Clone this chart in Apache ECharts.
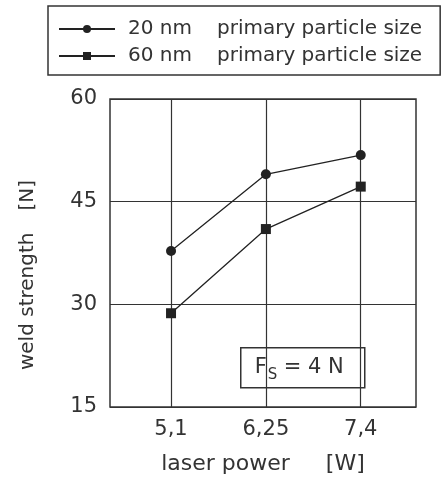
<!DOCTYPE html>
<html>
<head>
<meta charset="utf-8">
<script src="https://cdn.jsdelivr.net/npm/echarts@6/dist/echarts.min.js"></script>
<style>
  html, body { margin: 0; padding: 0; background: #fff; }
  #chart { width: 441px; height: 483px; }
</style>
</head>
<body>
<div id="chart"></div>
<script>
// Laser power settings (W) and measured weld strength (N)
const laserPower = [5.1, 6.25, 7.4];
const strength20nm = [37.8, 49.0, 51.8];
const strength60nm = [28.7, 41.0, 47.2];
const seriesNames = ['20 nm', '60 nm'];
const yTicks = [15, 30, 45, 60];

const ink = '#333';
const font = 'DejaVu Sans';

function pairs(xs, ys) {
  return xs.map((x, i) => [x, ys[i]]);
}

const chart = echarts.init(document.getElementById('chart'), null, { renderer: 'canvas' });

chart.setOption({
  backgroundColor: '#fff',
  animation: false,
  textStyle: { fontFamily: font, color: ink },
  legend: {
    orient: 'vertical',
    left: 48,
    top: 6,
    padding: [12, 18, 8, 10],
    itemGap: 5,
    itemWidth: 56,
    itemHeight: 10,
    borderColor: ink,
    borderWidth: 1.5,
    data: seriesNames,
    formatter: name => '{n|' + name + '}{p|primary particle size}',
    textStyle: {
      color: ink,
      lineHeight: 22,
      rich: {
        n: { fontFamily: font, fontSize: 20, color: ink, padding: [0, 0, 0, 8] },
        p: { fontFamily: font, fontSize: 20, color: ink, padding: [0, 0, 0, 25] }
      }
    }
  },
  grid: {
    left: 110,
    top: 99,
    width: 306,
    height: 308,
    show: true,
    borderColor: ink,
    borderWidth: 1.5,
    backgroundColor: 'transparent'
  },
  xAxis: {
    type: 'value',
    min: 4.36,
    max: 8.07,
    name: '{a|laser power}{b|[W]}',
    nameLocation: 'middle',
    nameGap: 46,
    nameTextStyle: {
      rich: {
        a: { fontFamily: font, fontSize: 22, color: ink },
        b: { fontFamily: font, fontSize: 22, color: ink, padding: [0, 0, 0, 36] }
      }
    },
    axisLine: { show: false },
    axisTick: { show: false },
    splitLine: { show: false },
    axisLabel: {
      customValues: laserPower,
      margin: 12,
      fontSize: 21,
      fontFamily: font,
      color: ink,
      formatter: v => String(v).replace('.', ',')
    }
  },
  yAxis: {
    type: 'value',
    min: yTicks[0],
    max: yTicks[yTicks.length - 1],
    interval: 15,
    name: '{a|weld strength}{b|[N]}',
    nameLocation: 'middle',
    nameRotate: 90,
    nameGap: 72,
    nameTextStyle: {
      padding: [0, 44, 0, 0],
      rich: {
        a: { fontFamily: font, fontSize: 20, color: ink },
        b: { fontFamily: font, fontSize: 20, color: ink, padding: [0, 0, 0, 22] }
      }
    },
    axisLine: { show: false },
    axisTick: { show: false },
    splitLine: { show: true, lineStyle: { color: ink, width: 1.2 } },
    axisLabel: {
      margin: 13,
      fontSize: 21,
      fontFamily: font,
      color: ink
    }
  },
  series: [
    {
      name: seriesNames[0],
      type: 'line',
      data: pairs(laserPower, strength20nm),
      symbol: 'circle',
      symbolSize: 10,
      itemStyle: { color: '#222' },
      lineStyle: { color: '#222', width: 1.3 },
      z: 5,
      markLine: {
        silent: true,
        symbol: 'none',
        label: { show: false },
        lineStyle: { color: ink, width: 1.2, type: 'solid' },
        data: laserPower.map(x => ({ xAxis: x })),
        z: 1
      }
    },
    {
      name: seriesNames[1],
      type: 'line',
      data: pairs(laserPower, strength60nm),
      symbol: 'rect',
      symbolSize: 10,
      itemStyle: { color: '#222' },
      lineStyle: { color: '#222', width: 1.3 },
      z: 5
    }
  ],
  graphic: [
    {
      type: 'group',
      left: 240,
      top: 347,
      z: 10,
      children: [
        {
          type: 'rect',
          shape: { x: 0, y: 0, width: 124, height: 40 },
          style: { fill: '#fff', stroke: ink, lineWidth: 1.5 }
        },
        {
          type: 'text',
          x: 14,
          y: 9,
          style: { text: 'F', font: '21px "DejaVu Sans"', fill: ink }
        },
        {
          type: 'text',
          x: 27,
          y: 20,
          style: { text: 'S', font: '15px "DejaVu Sans"', fill: ink }
        },
        {
          type: 'text',
          x: 43,
          y: 9,
          style: { text: '= 4 N', font: '21px "DejaVu Sans"', fill: ink }
        }
      ]
    }
  ]
});
</script>
</body>
</html>
